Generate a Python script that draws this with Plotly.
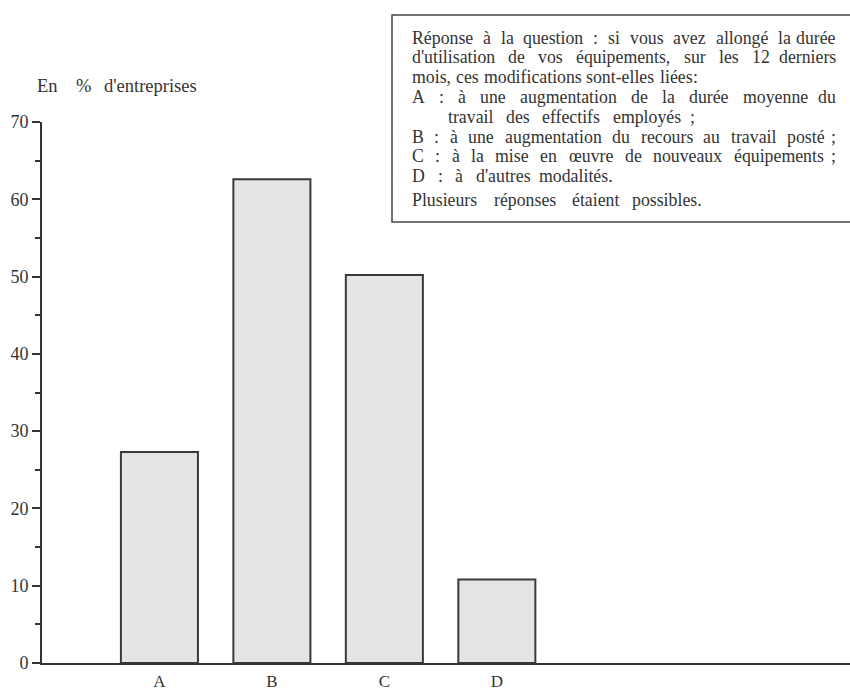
import plotly.graph_objects as go

categories = ["A", "B", "C", "D"]
values = [27.3, 62.6, 50.2, 10.8]
y_ticks = [0, 10, 20, 30, 40, 50, 60, 70]
y_title_words = ["En", "%", "d'entreprises"]
note_lines = [
    "Réponse à la question : si vous avez allongé la durée",
    "d'utilisation de vos équipements, sur les 12 derniers",
    "mois, ces modifications sont-elles liées :",
    "A : à une augmentation de la durée moyenne du",
    "travail des effectifs employés ;",
    "B : à une augmentation du recours au travail posté ;",
    "C : à la mise en œuvre de nouveaux équipements ;",
    "D : à d'autres modalités.",
    "Plusieurs réponses étaient possibles.",
]

W, H = 850, 694
L, R, T, B = 42, 0, 122, 31
PW, PH = W - L - R, H - T - B


def px(xp):
    return (xp - L) / PW


def py(yp):
    return (H - B - yp) / PH


FONT = "Liberation Serif"
INK = "#333333"

# Times / Liberation Serif advance widths (1/1000 em)
TW = {c: 444 for c in "acez"}
TW.update({c: 500 for c in "bdghknopquvxy0123456789"})
TW.update({c: 278 for c in "ijlt:;"})
TW.update({"f": 333, "r": 333, "s": 389, "m": 778, "w": 722, ",": 250, ".": 250,
           "'": 180, "-": 333, "%": 833, " ": 250, "œ": 722,
           "A": 722, "B": 667, "C": 667, "D": 722, "P": 556, "R": 667, "E": 611})
ACC = {"é": "e", "è": "e", "à": "a", "ê": "e"}


def text_w(s, size):
    return sum(TW.get(ACC.get(c, c), 480) for c in s) * size / 1000.0


fig = go.Figure()
fig.add_trace(go.Bar(
    x=categories, y=values, width=0.685,
    marker=dict(color="#e4e4e4", line=dict(color="#3a3a3a", width=2)),
    showlegend=False, hoverinfo="skip",
))

annotations = []
# y-axis title, widely spaced words
for word, xp in zip(y_title_words, [35, 74, 102]):
    annotations.append(dict(
        text=word, x=px(xp), y=py(86), xref="paper", yref="paper",
        xanchor="left", yanchor="middle", showarrow=False,
        font=dict(family=FONT, size=18.5, color=INK),
    ))

# note text, spread word by word across each line's extent
NS = 17.8
line_base = [43, 62.8, 82.6, 102.4, 122.2, 142, 161.8, 181.6, 205]
line_x0 = [410, 410, 410, 410, 446, 410, 410, 410, 410]
line_x1 = [838, 838, 700, 838, 697, 838, 838, 615, 704]
for line, yb, x0, x1 in zip(note_lines, line_base, line_x0, line_x1):
    words = line.split(" ")
    widths = [text_w(w, NS) for w in words]
    gap = (x1 - x0 - sum(widths)) / max(len(words) - 1, 1)
    xc = x0
    for j, (w, ww) in enumerate(zip(words, widths)):
        last = j == len(words) - 1 and j > 0
        annotations.append(dict(
            text=w, x=px(x1 if last else xc), y=py(yb - 0.3 * NS),
            xref="paper", yref="paper",
            xanchor="right" if last else "left", yanchor="middle",
            showarrow=False, font=dict(family=FONT, size=NS, color=INK),
        ))
        xc += ww + gap

fig.update_layout(
    width=W, height=H, margin=dict(l=L, r=R, t=T, b=B, autoexpand=False),
    paper_bgcolor="white", plot_bgcolor="white",
    annotations=annotations,
    shapes=[dict(
        type="rect", xref="paper", yref="paper",
        x0=px(392), x1=px(870), y0=py(222), y1=py(15),
        line=dict(color="#444444", width=1.5), fillcolor="rgba(0,0,0,0)",
    )],
    xaxis=dict(
        range=[-1.044, 6.14], showgrid=False, zeroline=False, automargin=False,
        showline=True, linecolor="#333333", linewidth=2,
        ticks="", ticklabelstandoff=2,
        tickfont=dict(family=FONT, size=17, color=INK),
    ),
    yaxis=dict(
        range=[0, 70], tickvals=y_ticks, showgrid=False, zeroline=False,
        automargin=False,
        showline=True, linecolor="#333333", linewidth=2,
        ticks="outside", ticklen=8, tickwidth=1.5, tickcolor="#333333",
        minor=dict(dtick=5, ticks="outside", ticklen=5, tickwidth=1.5,
                   tickcolor="#333333", showgrid=False),
        tickfont=dict(family=FONT, size=18, color=INK),
    ),
)

fig.write_html("out.html", config={"displayModeBar": False},
               post_script="document.body.style.margin='0';")
